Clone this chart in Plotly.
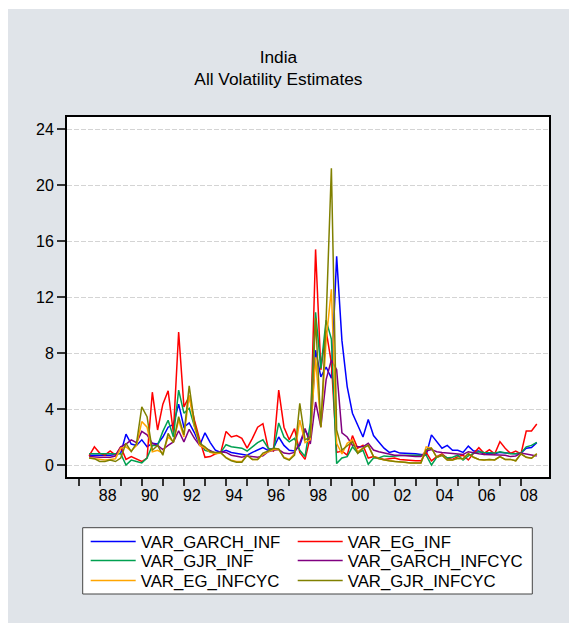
import plotly.graph_objects as go

# Quarterly observations 1987Q3 .. 2008Q4
start_year, start_q = 1987, 3
n_obs = 86
quarters = []
y, q = start_year, start_q
for _ in range(n_obs):
    quarters.append(y + (q - 1) / 4.0)
    q += 1
    if q > 4:
        q = 1
        y += 1

var_garch_inf = [
    0.7, 0.7, 0.65, 0.7, 0.7, 0.75, 0.85, 2.2, 1.5, 1.4,
    1.8, 1.3, 1.55, 1.5, 2.0, 2.7, 2.9, 4.35, 2.7, 3.0,
    2.3, 1.4, 2.3, 1.6, 1.05, 0.9, 1.05, 0.9, 0.85, 0.8,
    0.7, 0.9, 1.05, 1.25, 1.05, 1.2, 2.0, 1.4, 1.05, 1.0,
    1.4, 2.5, 1.8, 8.2, 6.3, 7.0, 6.2, 14.9, 8.9, 5.6,
    3.7, 2.8, 2.0, 3.25, 2.1, 1.65, 1.2, 0.9, 1.0, 0.85,
    0.85, 0.85, 0.8, 0.75, 0.7, 2.15, 1.65, 1.2, 1.4, 1.05,
    1.05, 0.9, 1.35, 1.0, 1.0, 0.75, 0.85, 0.8, 0.9, 0.85,
    0.8, 0.8, 0.85, 1.2, 1.25, 1.6]

var_eg_inf = [
    0.65, 1.3, 0.85, 0.7, 1.0, 0.7, 1.3, 0.4, 0.6, 0.45,
    0.25, 0.5, 5.2, 2.5, 4.35, 5.3, 2.3, 9.5, 4.15, 4.9,
    3.2, 1.8, 0.55, 0.6, 0.8, 0.9, 2.4, 2.0, 2.1, 1.9,
    1.2, 1.9, 2.7, 2.95, 1.2, 1.0, 5.35, 2.7, 1.8, 2.6,
    0.9, 0.4, 2.0, 15.4, 6.8, 9.6, 7.3, 0.9, 1.0, 0.7,
    2.1, 1.2, 1.4, 0.5, 0.6, 0.5, 0.4, 0.45, 0.5, 0.4,
    0.35, 0.3, 0.3, 0.3, 0.9, 0.3, 0.6, 0.8, 0.5, 0.4,
    0.6, 0.7, 0.36, 0.83, 1.24, 0.83, 1.1, 0.79, 1.67, 1.2,
    0.83, 1.0, 0.8, 2.43, 2.43, 2.93]

var_gjr_inf = [
    0.8, 0.8, 0.75, 0.75, 0.75, 0.75, 0.8, 0.0, 0.35, 0.25,
    0.15, 0.5, 1.4, 1.4, 2.4, 3.2, 2.0, 5.35, 3.7, 4.05,
    2.75, 1.65, 1.05, 0.95, 0.85, 0.9, 1.45, 1.3, 1.25, 1.2,
    1.0, 1.3, 1.6, 1.8, 1.2, 1.05, 3.0, 2.0, 1.65, 1.9,
    1.05, 0.6, 3.0, 10.9, 6.9, 10.35, 9.0, 0.1, 0.5, 0.6,
    1.3, 0.85, 1.05, 0.05, 0.5, 0.5, 0.65, 0.6, 0.65, 0.7,
    0.7, 0.7, 0.7, 0.7, 0.7, 0.0, 0.55, 0.7, 0.5, 0.55,
    0.7, 0.35, 0.65, 0.83, 0.95, 0.9, 0.85, 0.85, 0.95, 0.85,
    0.8, 0.8, 0.85, 1.3, 1.4, 1.62]

var_garch_infcyc = [
    0.6, 0.55, 0.55, 0.55, 0.55, 0.64, 1.3, 1.5, 1.8, 1.6,
    2.4, 2.15, 1.55, 1.4, 1.1, 1.4, 1.65, 2.45, 1.65, 2.55,
    1.9, 1.4, 1.2, 1.0, 0.85, 0.95, 0.9, 0.7, 0.65, 0.55,
    0.65, 0.6, 0.55, 0.65, 0.95, 1.05, 1.1, 0.85, 0.8, 0.9,
    1.55, 2.6, 1.5, 4.5, 2.7, 6.1, 7.5, 6.8, 2.3, 2.0,
    1.4, 1.3, 1.3, 1.55, 1.07, 0.95, 0.85, 0.75, 0.7, 0.7,
    0.65, 0.65, 0.6, 0.6, 1.0, 1.1, 0.95, 0.9, 0.85, 0.8,
    0.75, 0.75, 0.95, 0.85, 0.8, 0.75, 0.75, 0.7, 0.75, 0.7,
    0.6, 0.65, 0.85, 0.8, 0.7, 0.65]

var_eg_infcyc = [
    0.5, 0.45, 0.35, 0.35, 0.4, 0.45, 1.2, 1.3, 1.0, 1.4,
    3.1, 2.7, 0.95, 1.05, 0.85, 2.0, 1.65, 3.2, 2.0, 5.0,
    2.75, 1.4, 1.2, 0.9, 0.8, 0.85, 0.55, 0.35, 0.25, 0.25,
    0.7, 0.4, 0.4, 0.75, 0.95, 1.1, 1.1, 0.55, 0.4, 0.8,
    3.2, 1.6, 1.8, 7.7, 2.7, 8.9, 12.55, 1.55, 0.8, 1.55,
    1.8, 0.95, 1.2, 1.4, 0.6, 0.45, 0.35, 0.3, 0.25, 0.25,
    0.2, 0.15, 0.15, 0.15, 1.3, 1.2, 0.55, 0.7, 0.35, 0.35,
    0.48, 0.45, 0.8, 0.55, 0.4, 0.36, 0.4, 0.36, 0.6, 0.4,
    0.4, 0.3, 0.8, 0.55, 0.48, 0.8]

var_gjr_infcyc = [
    0.5, 0.45, 0.25, 0.25, 0.35, 0.25, 0.5, 1.55, 0.95, 1.55,
    4.15, 3.45, 1.05, 1.4, 0.7, 2.25, 1.6, 3.45, 2.15, 5.65,
    3.0, 1.55, 1.3, 0.95, 0.9, 0.9, 0.5, 0.3, 0.2, 0.2,
    0.7, 0.4, 0.4, 0.85, 1.0, 1.2, 1.15, 0.5, 0.35, 0.7,
    4.4, 1.8, 2.0, 10.5, 2.7, 10.35, 21.2, 2.5, 1.07, 1.4,
    1.67, 0.83, 1.2, 1.4, 0.6, 0.45, 0.35, 0.3, 0.25, 0.25,
    0.2, 0.15, 0.15, 0.15, 1.1, 1.2, 0.55, 0.7, 0.35, 0.35,
    0.48, 0.45, 0.8, 0.55, 0.4, 0.36, 0.4, 0.36, 0.6, 0.4,
    0.4, 0.3, 0.8, 0.55, 0.48, 0.8]

series_names = ["VAR_GARCH_INF", "VAR_EG_INF", "VAR_GJR_INF",
                "VAR_GARCH_INFCYC", "VAR_EG_INFCYC", "VAR_GJR_INFCYC"]
series_values = [var_garch_inf, var_eg_inf, var_gjr_inf,
                 var_garch_infcyc, var_eg_infcyc, var_gjr_infcyc]
series_colors = ["rgb(0,0,255)", "rgb(255,0,0)", "rgb(0,160,80)",
                 "rgb(128,0,128)", "rgb(255,165,0)", "rgb(128,128,0)"]
legend_ids = ["legend", "legend2", "legend3", "legend4", "legend5", "legend6"]

tick_years = list(range(1987, 2009))
tick_text = [("%02d" % (yr % 100)) if yr % 2 == 0 else "" for yr in tick_years]
y_ticks = [0, 4, 8, 12, 16, 20, 24]

FONT = "Liberation Sans, Arial, Helvetica, sans-serif"

fig = go.Figure()
for name, vals, col, lg in zip(series_names, series_values, series_colors, legend_ids):
    fig.add_trace(go.Scatter(x=quarters, y=vals, mode="lines", name=name,
                             legend=lg, line=dict(color=col, width=1.5)))

# Figure pixel geometry (page has an 8px body offset)
W, H = 577, 623
ML, MR, MT, MB = 59, 36, 109, 154
pw, ph = W - ML - MR, H - MT - MB
plot_bottom = H - MB


def px_x(x):
    return (x - ML) / pw


def px_y(yv):
    return (plot_bottom - yv) / ph


def entry_legend(col_x, row_y):
    return dict(orientation="v", x=px_x(col_x), xanchor="left",
                y=px_y(row_y), yanchor="middle",
                bgcolor="rgba(0,0,0,0)", borderwidth=0, itemwidth=45,
                font=dict(family=FONT, size=16.8, color="black"))


col_xs = [77.7, 284.7]
row_ys = [533.7, 552.7, 572.7]
legend_layout = {}
for i, lg in enumerate(legend_ids):
    legend_layout[lg] = entry_legend(col_xs[i % 2], row_ys[i // 2])

fig.update_layout(
    width=W, height=H,
    margin=dict(l=ML, r=MR, t=MT, b=MB, pad=0, autoexpand=False),
    paper_bgcolor="white",
    plot_bgcolor="white",
    font=dict(family=FONT, size=16, color="black"),
    title=dict(text="India<br>All Volatility Estimates",
               x=270.4 / W, xanchor="center", xref="container",
               y=1 - 54.9 / H, yanchor="middle", yref="container",
               font=dict(family=FONT, size=17.3, color="black")),
    showlegend=True,
    shapes=[
        dict(type="rect", xref="paper", yref="paper", layer="below",
             x0=-0.2, x1=1.2, y0=-0.6, y1=px_y(1),
             fillcolor="rgb(224,228,233)", line=dict(width=0)),
        dict(type="rect", xref="paper", yref="paper", layer="below",
             x0=0, x1=1, y0=0, y1=1,
             fillcolor="white", line=dict(width=0)),
        dict(type="rect", xref="paper", yref="paper", layer="below",
             x0=px_x(74.7), x1=px_x(524.3), y0=px_y(586), y1=px_y(519.7),
             fillcolor="white", line=dict(color="#444444", width=1)),
    ],
    **legend_layout,
)

fig.update_xaxes(
    range=[1986.45, 2009.33], tickmode="array", tickvals=tick_years,
    ticktext=tick_text, ticks="outside", ticklen=7, tickwidth=1.5,
    tickcolor="#333333", ticklabelshift=8, ticklabelstandoff=-4,
    showline=True, linecolor="black", linewidth=2, mirror=True,
    showgrid=False, zeroline=False,
    tickfont=dict(family=FONT, size=16, color="black"),
)
fig.update_yaxes(
    range=[-0.857, 24.857], tickmode="array", tickvals=y_ticks,
    ticks="outside", ticklen=8, tickwidth=1.5, tickcolor="#333333",
    showline=True, linecolor="black", linewidth=2, mirror=True,
    showgrid=True, gridcolor="rgb(212,212,212)", gridwidth=1, griddash="5px,2px",
    zeroline=False,
    tickfont=dict(family=FONT, size=16, color="black"),
)

fig.write_html("out.html")
